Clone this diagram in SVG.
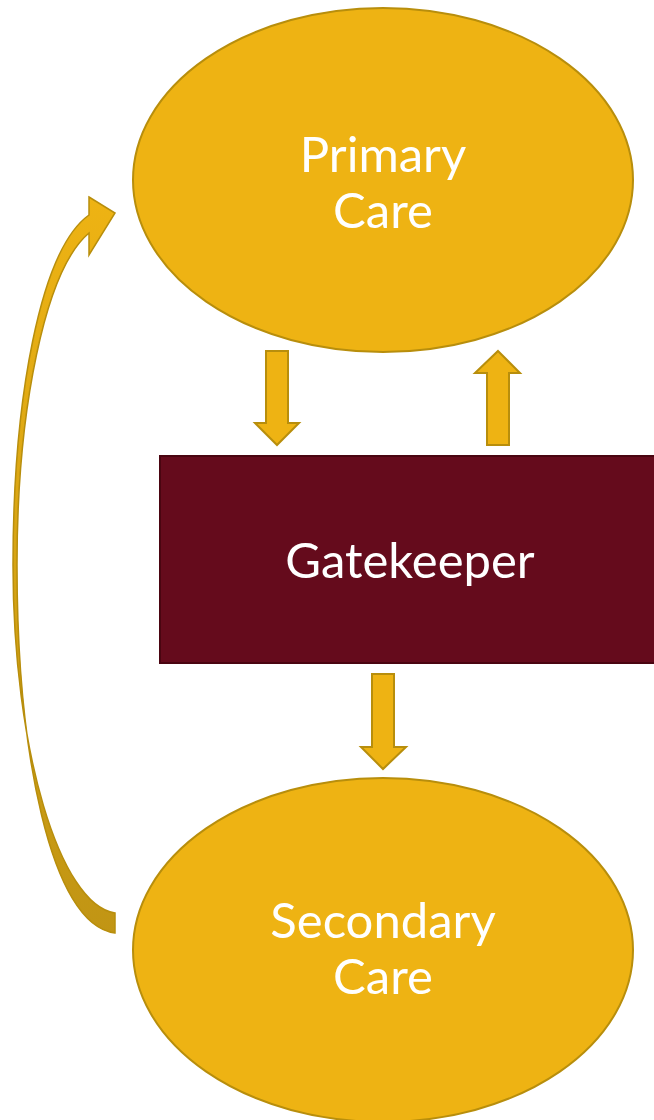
<svg xmlns="http://www.w3.org/2000/svg" width="654" height="1120" viewBox="0 0 654 1120">
<defs>
<style>
.gold{fill:#EEB313;stroke:#B88E0C;stroke-width:2}
.lbl{font-family:Lato,"Open Sans","DejaVu Sans",sans-serif;font-size:49px;fill:#FFFFFF;text-anchor:middle}
</style>
<linearGradient id="curveGrad" x1="0" y1="0" x2="0" y2="1">
<stop offset="0" stop-color="#EEB313"/>
<stop offset="1" stop-color="#C19514"/>
</linearGradient>
</defs>
<rect width="654" height="1120" fill="#FFFFFF"/>
<g id="primary-care">
<ellipse class="gold" cx="383" cy="180" rx="250" ry="172"/>
<text class="lbl" x="383" y="172">Primary</text>
<text class="lbl" x="383" y="228">Care</text>
</g>
<g id="gatekeeper">
<rect x="160" y="456" width="502" height="207" fill="#650B1C" stroke="#4A0511" stroke-width="2"/>
<text class="lbl" x="410" y="578">Gatekeeper</text>
</g>
<g id="secondary-care">
<ellipse class="gold" cx="383" cy="950" rx="250" ry="172"/>
<text class="lbl" x="383" y="938">Secondary</text>
<text class="lbl" x="383" y="994">Care</text>
</g>
<g id="connectors">
<polygon class="gold" points="266,351 288,351 288,423 299,423 277,445 255,423 266,423"/>
<polygon class="gold" points="498,351 520,373 509,373 509,445 487,445 487,373 475,373"/>
<polygon class="gold" points="372,674 394,674 394,747 406,747 383,769 361,747 372,747"/>
<path d="M 89,197 L 115,213 L 89,255 L 89,233 C 45,270 17,410 17,565 C 17,750 50,925 115,933 L 115,913 C 60,905 13,750 13,565 C 13,400 40,250 89,215 Z" fill="url(#curveGrad)" stroke="#B88E0C" stroke-width="1.5" stroke-linejoin="miter"/>
</g>
</svg>
